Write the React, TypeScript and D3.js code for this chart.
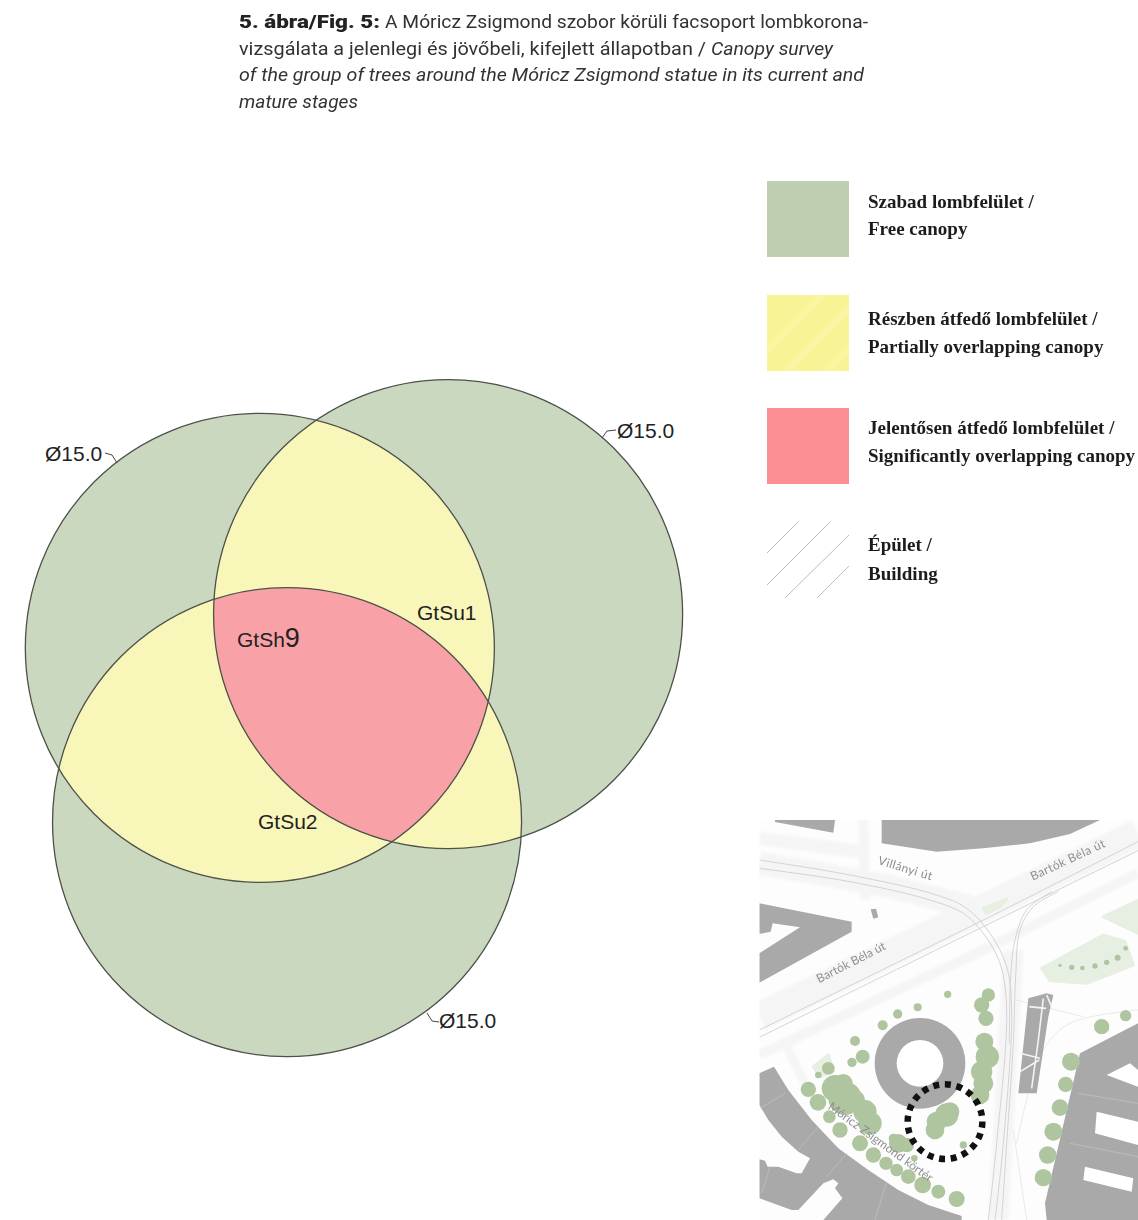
import React from "react";
import * as d3 from "d3";

type P = [number, number];
type C = [number, number, number];

// Canopy survey — crown centres in metres on the drawing, crown diameter in metres
const crownDiameter = 15;
const crownNames = ["GtSh9", "GtSu1", "GtSu2"];
const crownX = [8.31, 14.33, 9.18];
const crownY = [20.72, 19.64, 26.29];

const captionBold = "5. ábra/Fig. 5:";
const captionLine1 = "A Móricz Zsigmond szobor körüli facsoport lombkorona-";
const captionLine2a = "vizsgálata a jelenlegi és jövőbeli, kifejlett állapotban / ";
const captionLine2b = "Canopy survey";
const captionLine3 = "of the group of trees around the Móricz Zsigmond statue in its current and";
const captionLine4 = "mature stages";

const legendLabels = [
  ["Szabad lombfelület /", "Free canopy"],
  ["Részben átfedő lombfelület /", "Partially overlapping canopy"],
  ["Jelentősen átfedő lombfelület /", "Significantly overlapping canopy"],
  ["Épület /", "Building"],
];
const legendColors = ["#bfcdb0", "#f8f495", "#fa8e93"];

// Location map, in map units
const mapBands: [P[], number][] = [
  [[[28, 620], [1164, 70]], 85],
  [[[28, 735], [700, 420], [1164, 190]], 30],
  [[[28, 160], [400, 225], [660, 290]], 70],
  [[[28, 85], [330, 125]], 40],
  [[[340, 28], [345, 270]], 30],
  [[[790, 420], [745, 1230]], 60],
  [[[100, 690], [170, 830]], 25],
];
const mapTramLines: P[][] = [
  [[28, 150], [300, 195], [560, 255], [650, 295], [720, 370], [770, 470], [785, 600], [760, 1000], [735, 1230]],
  [[28, 175], [300, 215], [540, 270], [640, 310], [700, 370], [750, 460], [770, 600], [740, 1000], [715, 1230]],
  [[28, 660], [700, 330], [1164, 95]],
  [[28, 682], [720, 340], [1164, 122]],
  [[925, 245], [850, 290], [810, 360], [797, 500], [790, 700], [770, 1000], [755, 1230]],
  [[905, 245], [830, 300], [795, 390], [782, 500], [778, 700]],
];
const mapFaintLines: P[][] = [
  [[790, 960], [830, 1230]],
  [[1164, 600], [960, 640], [880, 720], [800, 1000]],
  [[800, 570], [1000, 620]],
];
const mapParks: P[][] = [
  [[875, 475], [1060, 375], [1125, 395], [1150, 465], [1010, 520], [900, 512]],
  [[1060, 320], [1164, 272], [1164, 370]],
  [[700, 295], [770, 268], [750, 290], [710, 310]],
  [[190, 770], [235, 735], [250, 785], [210, 800]],
];
const mapBuildings: P[][] = [
  [[75, 30], [255, 30], [250, 68], [75, 36]],
  [[395, 30], [1050, 30], [960, 72], [840, 100], [700, 115], [560, 125], [395, 100]],
  [[28, 280], [305, 335], [305, 365], [28, 518], [28, 430], [150, 352], [68, 340], [62, 365], [28, 372]],
  [[28, 790], [72, 770], [115, 840], [185, 930], [265, 1015], [355, 1080], [445, 1140], [535, 1185], [635, 1218], [635, 1230], [220, 1230], [277, 1165], [255, 1135], [265, 1120], [250, 1108], [220, 1120], [145, 1200], [125, 1200], [28, 1165], [28, 1048], [45, 1052], [53, 1070], [85, 1070], [140, 1090], [155, 1090], [180, 1045], [145, 1025], [95, 980], [55, 930], [28, 885]],
  [[990, 730], [1164, 640], [1164, 1230], [890, 1230], [885, 1180]],
  [[835, 565], [890, 550], [910, 555], [895, 620], [860, 850], [805, 850]],
  [[362, 298], [378, 296], [385, 322], [370, 326]],
];
const mapWindows: P[][] = [
  [[1070, 795], [1140, 760], [1164, 780], [1164, 830]],
  [[1040, 905], [1164, 935], [1164, 1005], [1035, 970]],
  [[1005, 1070], [1150, 1105], [1145, 1145], [1000, 1110]],
];
const mapDividers: P[][] = [
  [[30, 895], [105, 850]],
  [[145, 1020], [205, 950]],
  [[230, 1100], [290, 1030]],
  [[375, 1230], [410, 1115]],
  [[60, 1070], [35, 1150]],
  [[985, 850], [1164, 880]],
  [[960, 1000], [1164, 1040]],
];
const mapBuildingLines: P[][] = [
  [[880, 565], [865, 690], [845, 835]],
  [[838, 590], [888, 595]],
  [[810, 730], [870, 745]],
  [[810, 785], [868, 750]],
  [[890, 555], [905, 590]],
];
const mapTrees: C[] = [
  [593, 553, 11], [503, 592, 12], [443, 612, 14], [398, 646, 15], [315, 693, 15], [338, 740, 21], [306, 757, 14],
  [235, 775, 19], [205, 795, 10], [175, 838, 23], [204, 877, 25], [238, 920, 19], [270, 960, 23], [330, 1000, 24],
  [370, 1035, 23], [408, 1060, 20], [440, 1080, 19], [475, 1100, 22], [518, 1125, 25], [565, 1145, 21], [620, 1167, 24],
  [493, 1045, 10], [640, 1005, 11], [1055, 650, 23], [1127, 617, 17], [963, 755, 27], [947, 823, 23], [930, 893, 25],
  [910, 965, 27], [893, 1035, 26], [880, 1103, 26], [930, 466, 5], [965, 472, 8], [997, 474, 7], [1035, 468, 8],
  [1070, 457, 8], [1103, 443, 9], [1127, 415, 7],
  [715, 555, 20], [695, 585, 23], [708, 625, 23],
  [703, 695, 27], [712, 740, 35], [695, 785, 32], [700, 820, 30], [690, 855, 28],
  [255, 835, 40], [280, 820, 28], [285, 865, 50], [315, 870, 30], [345, 905, 35], [360, 940, 35],
  [590, 915, 35], [560, 935, 30], [555, 960, 28], [600, 905, 28],
  [445, 1000, 28], [470, 1005, 22], [430, 985, 14],
];
const mapRing = { x: 510, y: 760, outer: 136, inner: 70 };
const mapSpot = { x: 585, y: 935, r: 112 };
const mapLabels: [string, number, number, number, number][] = [
  ["Villányi út", 382, 162, 17, 56],
  ["Bartók Béla út", 848, 212, -25, 81],
  ["Bartók Béla út", 207, 520, -27, 76],
  ["Móricz Zsigmond körtér", 232, 895, 36, 126],
];

// scale from drawing metres to page pixels
const pxPerMetre = 31.27;
const cx = d3.scaleLinear().domain([0, 1]).range([0, pxPerMetre]);
const cy = d3.scaleLinear().domain([0, 1]).range([0, pxPerMetre]);
const radius = cx(crownDiameter / 2);

// scale from map units to page pixels
const mx = d3.scaleLinear().domain([0, 1164]).range([750, 1138]);
const my = d3.scaleLinear().domain([0, 1230]).range([810, 1220]);
const ms = d3.scaleLinear().domain([0, 3]).range([0, 1]);

const poly = (pts: P[]) => d3.line<P>().x((p) => mx(p[0])).y((p) => my(p[1]))(pts)! + "Z";
const straight = d3.line<P>().x((p) => mx(p[0])).y((p) => my(p[1]));
const curved = d3.line<P>().x((p) => mx(p[0])).y((p) => my(p[1])).curve(d3.curveCatmullRom.alpha(0.5));

const OUT = "#4d5148";
const GREEN = "#cbd8c0";
const YELLOW = "#f9f6ba";
const PINK = "#f8a1a7";
const SANS = "'Liberation Sans', Arial, sans-serif";

const diameterLabels = [
  { x: 45, y: 461, leader: "M105 453 L112 455 L117 463" },
  { x: 617, y: 438, leader: "M602 438 L607 431 L616 430" },
  { x: 439, y: 1028, leader: "M427 1013 L432 1021 L439 1022" },
];

export default function App() {
  const centres = crownNames.map((_, i) => ({ x: cx(crownX[i]), y: cy(crownY[i]) }));
  const pairs = [[0, 1], [0, 2], [1, 2]];
  return (
    <svg width={1138} height={1220} style={{ position: "absolute", left: 0, top: 0, background: "#fff" }}>
      <defs>
        {centres.map((c, i) => (
          <clipPath id={`crown${i}`} key={i}>
            <circle cx={c.x} cy={c.y} r={radius} />
          </clipPath>
        ))}
        <clipPath id="mapClip">
          <rect x={mx(28)} y={my(28)} width={mx(1164) - mx(28)} height={my(1230) - my(28)} />
        </clipPath>
        <clipPath id="legendYellow">
          <rect x={767} y={295} width={82} height={76} />
        </clipPath>
        <filter id="soft" filterUnits="userSpaceOnUse" x="740" y="800" width="398" height="420">
          <feGaussianBlur stdDeviation="0.7" />
        </filter>
        <filter id="softer" filterUnits="userSpaceOnUse" x="740" y="280" width="398" height="940">
          <feGaussianBlur stdDeviation="1.4" />
        </filter>
        <filter id="softText" x="-5%" y="-5%" width="110%" height="110%">
          <feGaussianBlur stdDeviation="0.3" />
        </filter>
      </defs>

      {/* caption */}
      <g filter="url(#softText)" fill="#333" fontFamily="Roboto, sans-serif" fontSize={18.5}>
        <text x={239} y={28} fontWeight={900} fontSize={19} fill="#222" textLength={141} lengthAdjust="spacingAndGlyphs">{captionBold}</text>
        <text x={385} y={28} textLength={483} lengthAdjust="spacingAndGlyphs">{captionLine1}</text>
        <text x={239} y={55} textLength={467} lengthAdjust="spacingAndGlyphs">{captionLine2a}</text>
        <text x={711} y={55} fontStyle="italic" textLength={122} lengthAdjust="spacingAndGlyphs">{captionLine2b}</text>
        <text x={239} y={81} fontStyle="italic" textLength={625} lengthAdjust="spacingAndGlyphs">{captionLine3}</text>
        <text x={239} y={108} fontStyle="italic" textLength={119} lengthAdjust="spacingAndGlyphs">{captionLine4}</text>
      </g>

      {/* canopy circles */}
      {centres.map((c, i) => (
        <circle key={i} cx={c.x} cy={c.y} r={radius} fill={GREEN} />
      ))}
      {pairs.map(([a, b], i) => (
        <g key={i} clipPath={`url(#crown${a})`}>
          <circle cx={centres[b].x} cy={centres[b].y} r={radius} fill={YELLOW} />
        </g>
      ))}
      <g clipPath="url(#crown0)">
        <g clipPath="url(#crown1)">
          <circle cx={centres[2].x} cy={centres[2].y} r={radius} fill={PINK} />
        </g>
      </g>
      {centres.map((c, i) => (
        <circle key={i} cx={c.x} cy={c.y} r={radius} fill="none" stroke={OUT} strokeWidth={1.3} />
      ))}

      {/* canopy labels */}
      <g fontFamily={SANS} fontSize={21} fill="#222">
        {diameterLabels.map((d, i) => (
          <g key={i}>
            <text x={d.x} y={d.y}>{`Ø${crownDiameter.toFixed(1)}`}</text>
            <path d={d.leader} fill="none" stroke="#444" strokeWidth={1} />
          </g>
        ))}
        <text x={237} y={647}>
          GtSh<tspan fontSize={27}>9</tspan>
        </text>
        <text x={417} y={620}>{"GtSu1"}</text>
        <text x={258} y={829}>{"GtSu2"}</text>
      </g>

      {/* legend */}
      <g>
        {legendColors.map((col, i) => (
          <rect key={i} x={767} y={[181, 295, 408][i]} width={82} height={76} fill={col} />
        ))}
        <g clipPath="url(#legendYellow)" stroke="#f9f6a6" strokeWidth={6} filter="url(#softer)">
          {[-20, 20, 60, 100].map((o, i) => (
            <line key={i} x1={767 + o} y1={371} x2={767 + o + 76} y2={295} />
          ))}
        </g>
        <g stroke="#bdbdbd" strokeWidth={1}>
          <line x1={767} y1={553} x2={798} y2={522} />
          <line x1={767} y1={585} x2={830} y2={522} />
          <line x1={785} y1={598} x2={849} y2={535} />
          <line x1={817} y1={598} x2={849} y2={566} />
        </g>
        <g fontFamily="'Liberation Serif', serif" fontWeight={700} fontSize={19} fill="#1c1c1c" filter="url(#softText)">
          {legendLabels.map((l, i) => (
            <g key={i}>
              <text x={868} y={[208, 325, 434, 551][i]}>{l[0]}</text>
              <text x={868} y={[235, 353, 462, 580][i]}>{l[1]}</text>
            </g>
          ))}
        </g>
      </g>

      {/* location map */}
      <g clipPath="url(#mapClip)">
        <rect x={mx(28)} y={my(28)} width={mx(1164) - mx(28)} height={my(1230) - my(28)} fill="#fdfdfd" />
        <g filter="url(#softer)">
          {mapBands.map(([pts, w], i) => (
            <path key={i} d={straight(pts)!} fill="none" stroke="#f5f5f5" strokeWidth={ms(w)} />
          ))}
        </g>
        <g filter="url(#soft)">
          {mapParks.map((p, i) => (
            <path key={i} d={poly(p)} fill="#e6efe1" stroke="#e6efe1" strokeWidth={3} strokeLinejoin="round" />
          ))}
          {mapTramLines.map((pts, i) => (
            <path key={i} d={curved(pts)!} fill="none" stroke="#cfcfcf" strokeWidth={0.9} />
          ))}
          {mapFaintLines.map((pts, i) => (
            <path key={i} d={curved(pts)!} fill="none" stroke="#e6e6e6" strokeWidth={0.9} />
          ))}
          {mapBuildings.map((p, i) => (
            <path key={i} d={poly(p)} fill="#a9a9a9" />
          ))}
          {mapWindows.map((p, i) => (
            <path key={i} d={poly(p)} fill="#fff" />
          ))}
          {mapDividers.map((pts, i) => (
            <path key={i} d={straight(pts)!} fill="none" stroke="#c0c0c0" strokeWidth={0.8} />
          ))}
          {mapBuildingLines.map((pts, i) => (
            <path key={i} d={straight(pts)!} fill="none" stroke="#f4f4f4" strokeWidth={1.6} />
          ))}
          <circle cx={mx(mapRing.x)} cy={my(mapRing.y)} r={ms(mapRing.outer)} fill="#a9a9a9" />
          <circle cx={mx(mapRing.x)} cy={my(mapRing.y)} r={ms(mapRing.inner)} fill="#fff" />
          {mapTrees.map(([x, y, r], i) => (
            <circle key={i} cx={mx(x)} cy={my(y)} r={ms(r)} fill="#aec5a0" />
          ))}
          <g fontFamily="Lato, sans-serif" fontSize={12} fill="#8f8f8f">
            {mapLabels.map(([t, x, y, a, len], i) => (
              <text key={i} transform={`translate(${mx(x)},${my(y)}) rotate(${a})`} textLength={len}>{t}</text>
            ))}
          </g>
        </g>
        <circle
          cx={mx(mapSpot.x)}
          cy={my(mapSpot.y)}
          r={ms(mapSpot.r)}
          fill="none"
          stroke="#111"
          strokeWidth={6.5}
          strokeDasharray="6 5.7"
        />
      </g>
    </svg>
  );
}
